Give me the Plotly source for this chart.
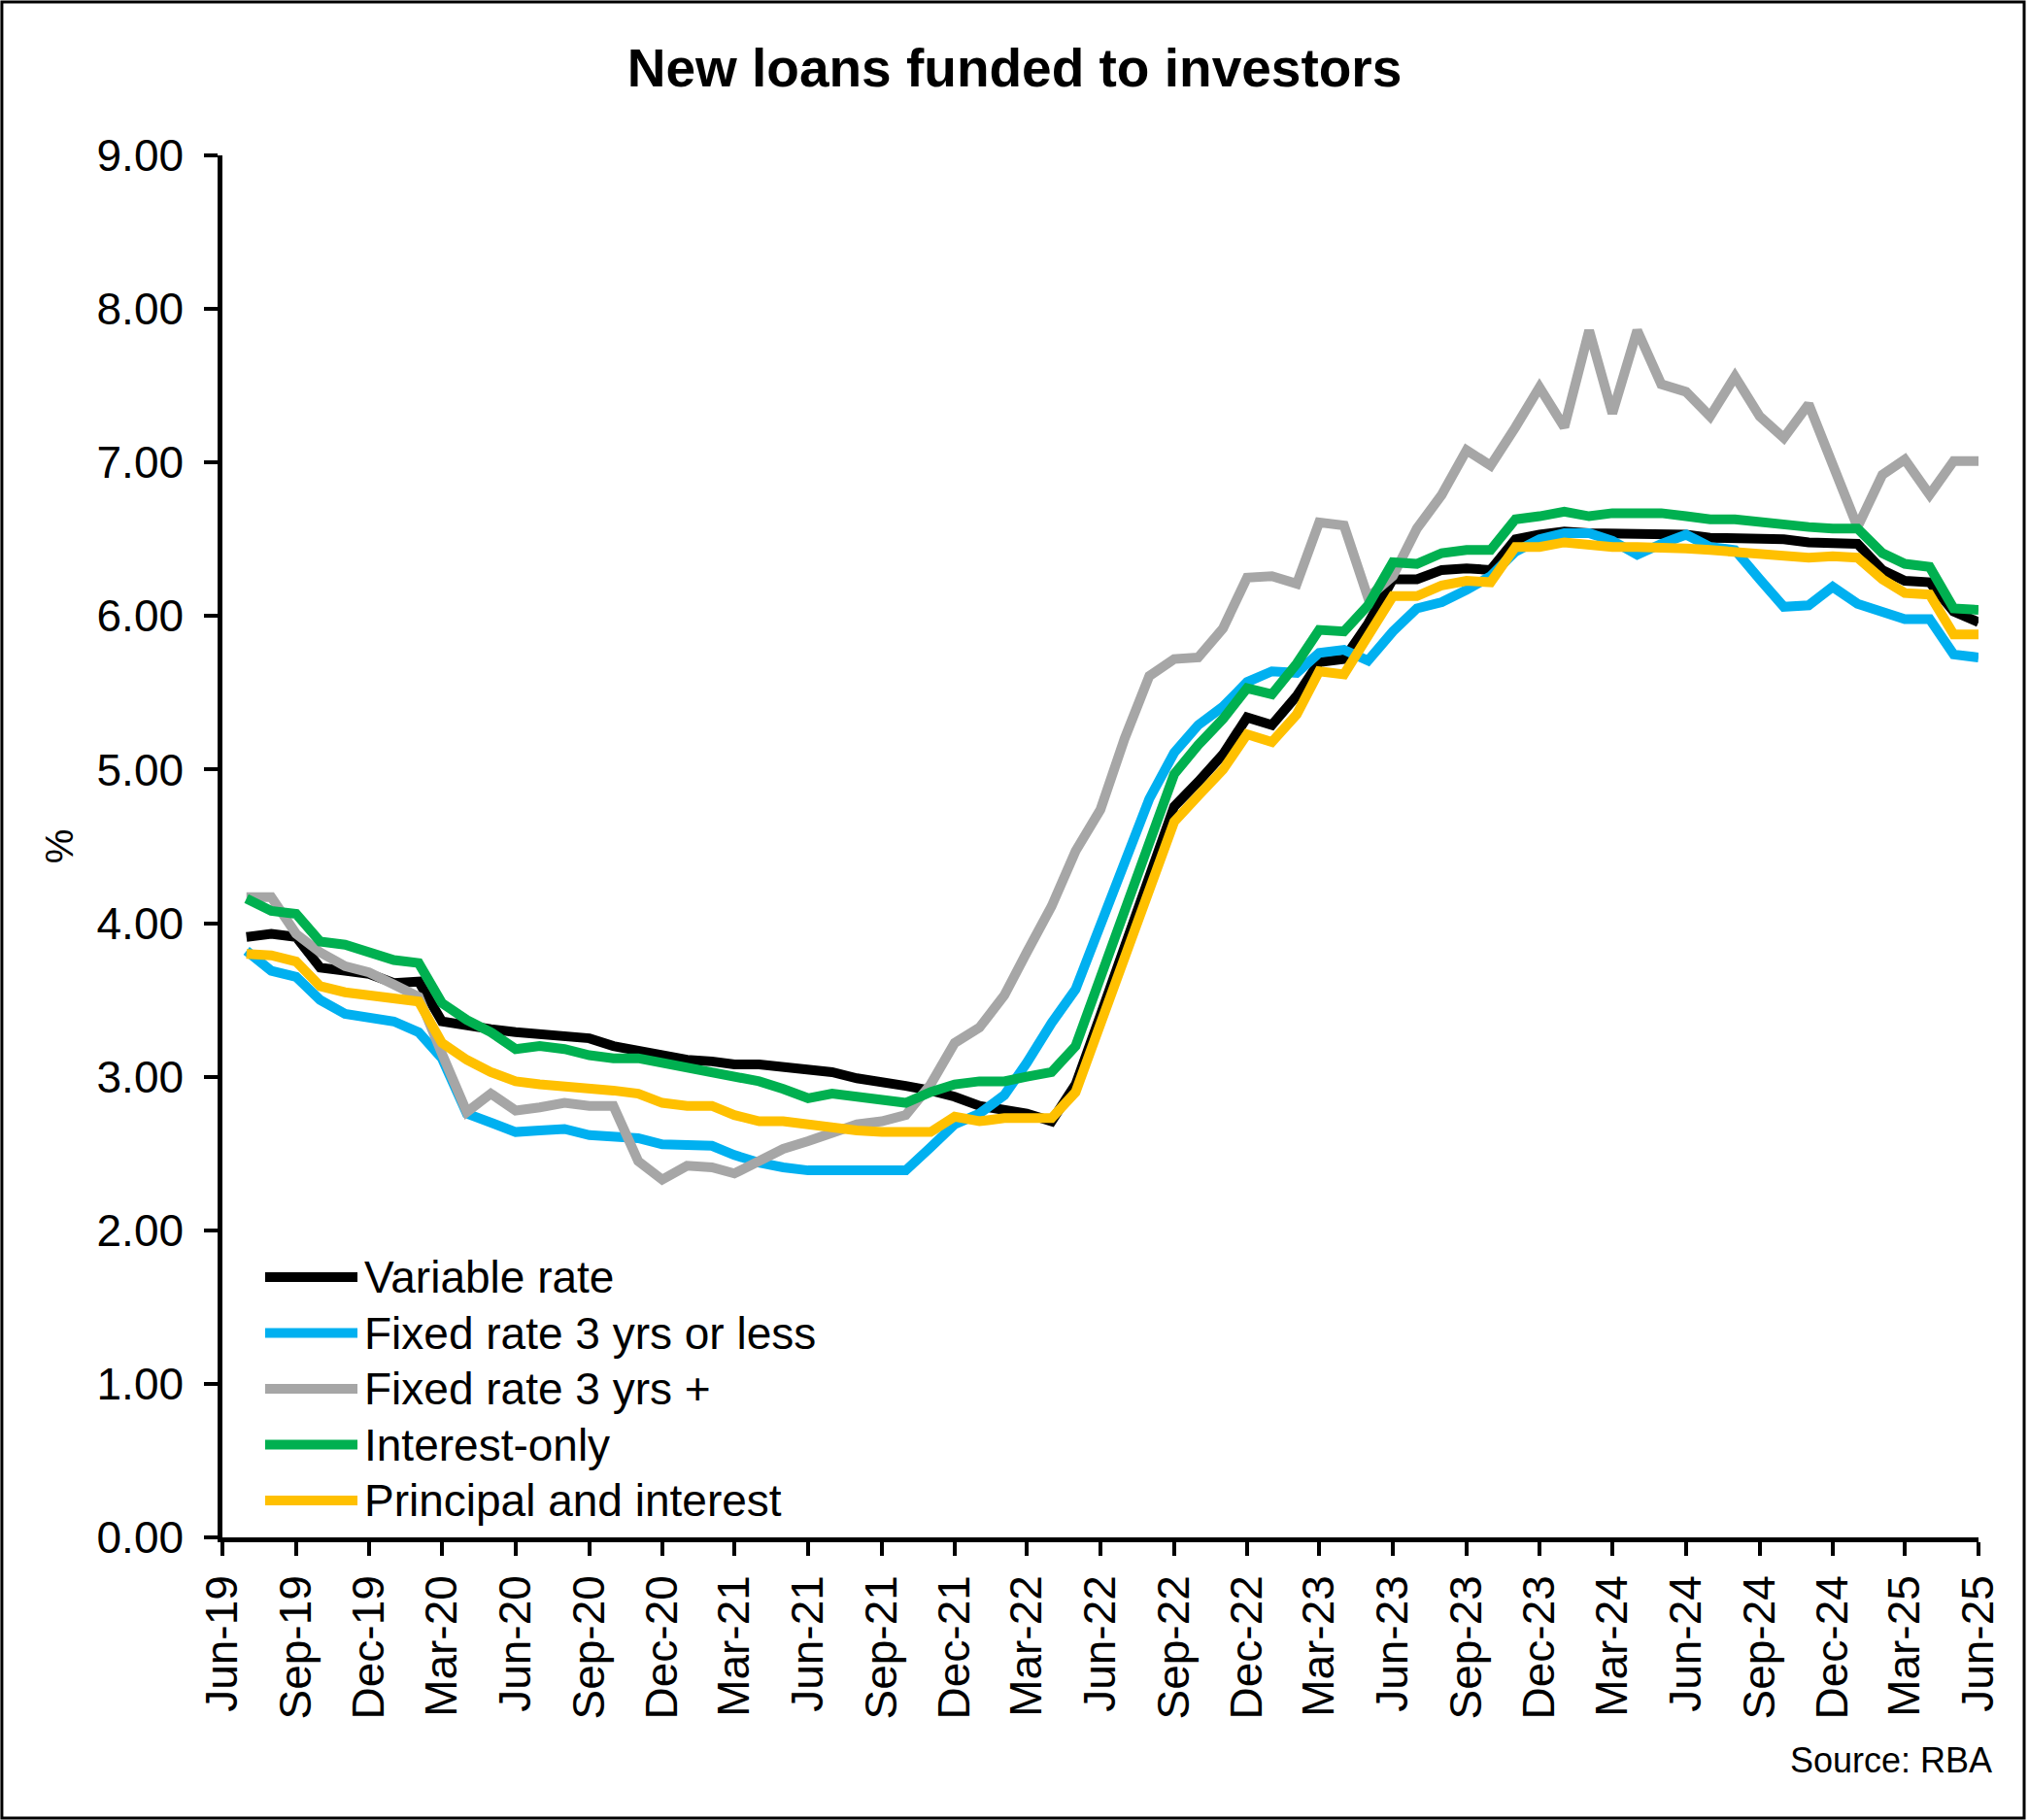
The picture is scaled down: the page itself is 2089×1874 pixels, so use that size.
import pandas as pd
import plotly.graph_objects as go

# monthly observations, Jul-19 .. Jun-25
months = pd.date_range("2019-07-01", periods=72, freq="MS")

variable_rate = [
    3.91, 3.93, 3.91, 3.71, 3.69, 3.67, 3.61, 3.62, 3.36, 3.33, 3.31, 3.29,
    3.28, 3.26, 3.25, 3.20, 3.17, 3.13, 3.11, 3.10, 3.08, 3.08, 3.06, 3.04,
    3.03, 2.99, 2.97, 2.94, 2.91, 2.87, 2.81, 2.78, 2.76, 2.71, 2.95, 3.40,
    3.85, 4.31, 4.76, 4.92, 5.10, 5.34, 5.29, 5.48, 5.70, 5.72, 5.95, 6.24,
    6.24, 6.30, 6.31, 6.30, 6.50, 6.53, 6.55, 6.54, 6.54, 6.54, 6.53, 6.53,
    6.51, 6.51, 6.51, 6.50, 6.48, 6.47, 6.47, 6.30, 6.23, 6.22, 6.03, 5.96,
]
fixed_3_or_less = [
    3.82, 3.69, 3.65, 3.50, 3.41, 3.39, 3.36, 3.29, 3.12, 2.76, 2.70, 2.64,
    2.65, 2.66, 2.62, 2.61, 2.60, 2.56, 2.55, 2.55, 2.49, 2.44, 2.41, 2.39,
    2.39, 2.39, 2.40, 2.39, 2.54, 2.69, 2.76, 2.88, 3.09, 3.35, 3.57, 3.98,
    4.39, 4.81, 5.11, 5.29, 5.41, 5.57, 5.64, 5.63, 5.76, 5.78, 5.71, 5.90,
    6.05, 6.09, 6.17, 6.26, 6.42, 6.50, 6.54, 6.54, 6.49, 6.40, 6.47, 6.53,
    6.45, 6.43, 6.24, 6.06, 6.07, 6.19, 6.08, 6.02, 5.98, 5.98, 5.75, 5.73,
]
fixed_3_plus = [
    4.17, 4.17, 3.93, 3.81, 3.72, 3.68, 3.60, 3.52, 3.15, 2.77, 2.89, 2.78,
    2.80, 2.83, 2.81, 2.81, 2.45, 2.33, 2.42, 2.41, 2.37, 2.46, 2.53, 2.58,
    2.64, 2.69, 2.71, 2.75, 2.95, 3.22, 3.32, 3.53, 3.81, 4.11, 4.47, 4.74,
    5.20, 5.61, 5.72, 5.73, 5.92, 6.25, 6.26, 6.21, 6.61, 6.59, 6.12, 6.26,
    6.57, 6.79, 7.08, 6.98, 7.23, 7.49, 7.23, 7.86, 7.32, 7.86, 7.51, 7.46,
    7.30, 7.56, 7.30, 7.16, 7.38, 6.97, 6.58, 6.92, 7.02, 6.79, 7.01, 7.01,
]
interest_only = [
    4.16, 4.08, 4.06, 3.88, 3.86, 3.81, 3.76, 3.74, 3.48, 3.37, 3.29, 3.18,
    3.20, 3.18, 3.14, 3.12, 3.12, 3.09, 3.06, 3.03, 2.99, 2.97, 2.92, 2.86,
    2.89, 2.87, 2.86, 2.83, 2.90, 2.95, 2.97, 2.97, 3.00, 3.03, 3.20, 3.64,
    4.08, 4.53, 4.97, 5.16, 5.33, 5.53, 5.49, 5.69, 5.91, 5.90, 6.07, 6.35,
    6.34, 6.41, 6.43, 6.43, 6.63, 6.65, 6.68, 6.65, 6.67, 6.67, 6.67, 6.65,
    6.63, 6.63, 6.61, 6.60, 6.58, 6.57, 6.57, 6.41, 6.34, 6.32, 6.05, 6.04,
]
principal_interest = [
    3.80, 3.79, 3.75, 3.59, 3.55, 3.53, 3.50, 3.49, 3.22, 3.11, 3.03, 2.97,
    2.95, 2.94, 2.92, 2.91, 2.89, 2.83, 2.81, 2.81, 2.75, 2.71, 2.71, 2.69,
    2.66, 2.65, 2.64, 2.64, 2.64, 2.74, 2.71, 2.73, 2.73, 2.73, 2.90, 3.34,
    3.78, 4.22, 4.66, 4.83, 5.00, 5.23, 5.18, 5.36, 5.64, 5.62, 5.87, 6.13,
    6.13, 6.20, 6.23, 6.22, 6.45, 6.45, 6.48, 6.46, 6.45, 6.45, 6.45, 6.44,
    6.43, 6.42, 6.41, 6.39, 6.38, 6.39, 6.38, 6.24, 6.15, 6.14, 5.88, 5.88,
]

series = [
    ("Variable rate", variable_rate, "#000000"),
    ("Fixed rate 3 yrs or less", fixed_3_or_less, "#00B0F0"),
    ("Fixed rate 3 yrs +", fixed_3_plus, "#A6A6A6"),
    ("Interest-only", interest_only, "#00B050"),
    ("Principal and interest", principal_interest, "#FFC000"),
]

font = "Liberation Sans, Arial, sans-serif"

fig = go.Figure()
for name, vals, col in series:
    fig.add_trace(go.Scatter(x=months, y=vals, name=name, mode="lines",
                             line=dict(color=col, width=10)))

fig.update_layout(
    width=2089, height=1874,
    margin=dict(l=229, r=52, t=160, b=291),
    paper_bgcolor="white", plot_bgcolor="white",
    font=dict(family=font, size=46, color="black"),
    title=dict(text="<b>New loans funded to investors</b>", x=0.5, xanchor="center",
               y=1 - 70 / 1874, yanchor="middle", yref="container",
               font=dict(size=55, family=font, color="black")),
    showlegend=False,
)

fig.update_xaxes(
    type="date", range=["2019-06-01", "2025-06-01"],
    tick0="2019-06-01", dtick="M3", tickformat="%b-%y", tickangle=-90,
    showgrid=False, zeroline=False,
    showline=True, linecolor="black", linewidth=4.5,
    ticks="outside", ticklen=14, tickwidth=4, tickcolor="black",
    tickfont=dict(size=46), ticklabelstandoff=2,
)
fig.update_yaxes(
    range=[0, 9], dtick=1, tickformat=".2f",
    showgrid=False, zeroline=False,
    showline=True, linecolor="black", linewidth=4.5,
    ticks="outside", ticklen=14, tickwidth=4, tickcolor="black",
    tickfont=dict(size=46), ticklabelstandoff=12,
    title=dict(text="%", font=dict(size=40), standoff=13),
)

# legend drawn in the lower-left corner, Excel style (long line keys)
leg_top, leg_step = 0.1883, 0.0404
for k, (name, vals, col) in enumerate(series):
    yk = leg_top - k * leg_step
    fig.add_shape(type="line", xref="paper", yref="paper",
                  x0=0.0243, x1=0.0769, y0=yk, y1=yk,
                  line=dict(color=col, width=10))
    fig.add_annotation(text=name, xref="paper", yref="paper",
                       x=0.0795, y=yk, xanchor="left", yanchor="middle",
                       showarrow=False, font=dict(size=46))

# outer frame around the whole image
fig.add_shape(type="rect", xref="paper", yref="paper",
              x0=-0.1256, x1=1.026, y0=-0.2031, y1=1.111,
              line=dict(color="black", width=3), fillcolor="rgba(0,0,0,0)")

fig.add_annotation(text="Source: RBA", xref="paper", yref="paper",
                   x=1.0088, y=-0.1616, xanchor="right", yanchor="middle",
                   showarrow=False, font=dict(size=36))

fig.write_html("out.html", config={"displayModeBar": False},
               post_script="document.body.style.margin='0';")
